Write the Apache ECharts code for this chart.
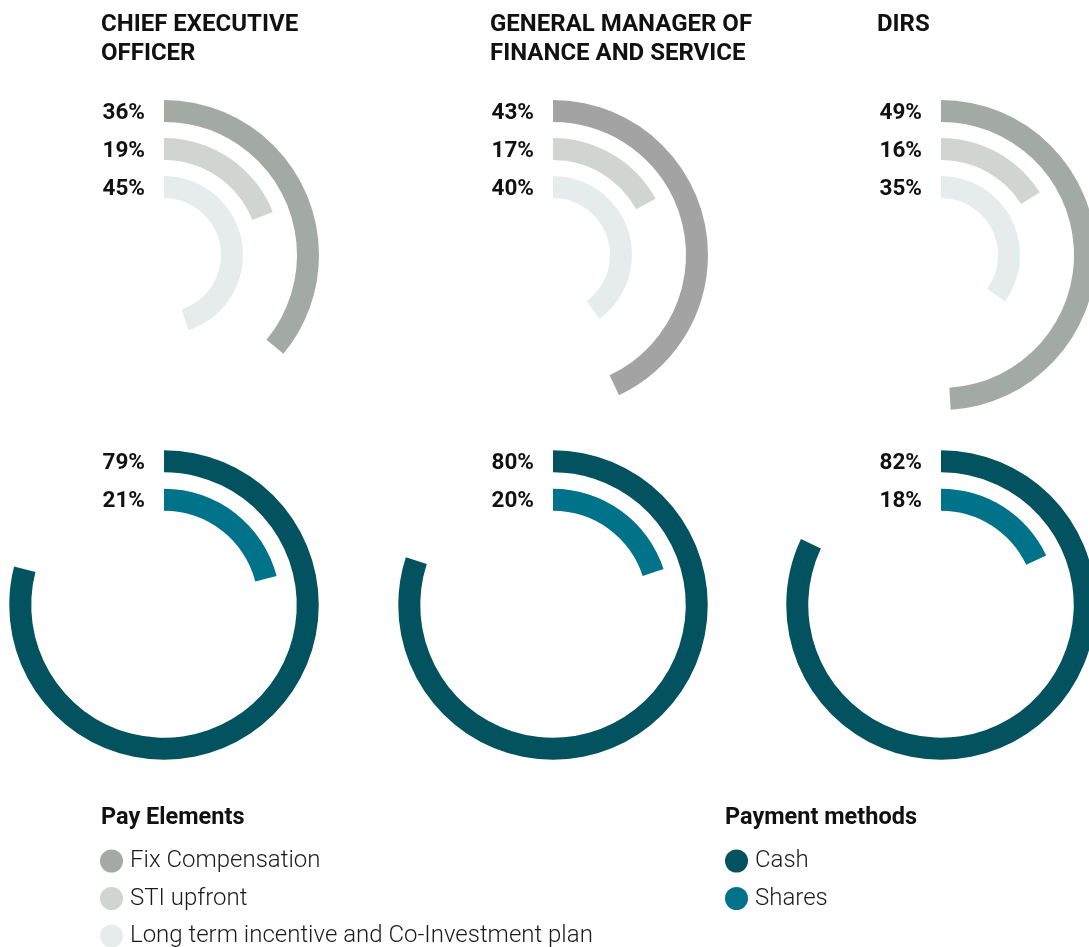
<!DOCTYPE html>
<html>
<head>
<meta charset="utf-8">
<script src="https://cdn.jsdelivr.net/npm/echarts@6/dist/echarts.min.js"></script>
<style>
  html, body { margin: 0; padding: 0; background: #fff; }
  #main { width: 1089px; height: 947px; }
</style>
</head>
<body>
<div id="main"></div>
<script>
// roles (one column each)
const roles = ['CHIEF EXECUTIVE\nOFFICER', 'GENERAL MANAGER OF\nFINANCE AND SERVICE', 'DIRS']
// pay elements, % of total pay
const payElements = ['Fix Compensation', 'STI upfront', 'Long term incentive and Co-Investment plan']
const fixCompensation = [36, 43, 49]
const stiUpfront = [19, 17, 16]
const ltiPlan = [45, 40, 35]
// payment methods, % of total pay
const paymentMethods = ['Cash', 'Shares']
const cash = [79, 80, 82]
const shares = [21, 20, 18]

const colX = [164, 553, 941]
const colLeft = [101, 490, 877]
const topY = 255
const bottomY = 605
const fixColors = ['#a3a9a5', '#a3a3a3', '#a3a9a5']
const stiColor = '#d1d5d2'
const ltiColor = '#e6ecec'
const cashColor = '#02525f'
const sharesColor = '#00738a'
const font = 'Roboto'

const chart = echarts.init(document.getElementById('main'))

const polar = []
const angleAxis = []
const radiusAxis = []
const series = []

function label() {
    return {
        show: true,
        position: 'start',
        distance: 19,
        offset: [0, 2],
        formatter: '{c}%',
        fontFamily: font,
        fontSize: 22.5,
        fontWeight: 'bold',
        color: '#111'
    }
}

// every ring of one polar shares a stack, so all rings sit centred in their band
function ring(name, polarIndex, data, color) {
    return {
        name: name,
        type: 'bar',
        coordinateSystem: 'polar',
        polarIndex: polarIndex,
        stack: 'p' + polarIndex,
        barWidth: 22,
        silent: true,
        itemStyle: { color: color },
        label: label(),
        data: data
    }
}

roles.forEach(function (role, i) {
    // top: pay elements (inner -> outer: LTI, STI, Fix)
    polar.push({ center: [colX[i], topY], radius: [49, 163] })
    angleAxis.push({ polarIndex: i * 2, type: 'value', min: 0, max: 100, startAngle: 90, clockwise: true, show: false })
    radiusAxis.push({ polarIndex: i * 2, type: 'category', data: ['lti', 'sti', 'fix'], show: false })
    series.push(ring(payElements[0], i * 2, ['-', '-', fixCompensation[i]], fixColors[i]))
    series.push(ring(payElements[1], i * 2, ['-', stiUpfront[i], '-'], stiColor))
    series.push(ring(payElements[2], i * 2, [ltiPlan[i], '-', '-'], ltiColor))

    // bottom: payment methods (inner -> outer: Shares, Cash)
    polar.push({ center: [colX[i], bottomY], radius: [86, 163] })
    angleAxis.push({ polarIndex: i * 2 + 1, type: 'value', min: 0, max: 100, startAngle: 90, clockwise: true, show: false })
    radiusAxis.push({ polarIndex: i * 2 + 1, type: 'category', data: ['shares', 'cash'], show: false })
    series.push(ring(paymentMethods[0], i * 2 + 1, ['-', cash[i]], cashColor))
    series.push(ring(paymentMethods[1], i * 2 + 1, [shares[i], '-'], sharesColor))
})

const titles = roles.map(function (role, i) {
    return {
        text: role,
        left: colLeft[i],
        top: 11,
        padding: 0,
        textStyle: { fontFamily: font, fontSize: 24, fontWeight: 'bold', lineHeight: 28.5, color: '#111' }
    }
})
titles.push({
    text: 'Pay Elements', left: 101, top: 806, padding: 0,
    textStyle: { fontFamily: font, fontSize: 23.5, fontWeight: 'bold', color: '#111' }
})
titles.push({
    text: 'Payment methods', left: 725, top: 806, padding: 0,
    textStyle: { fontFamily: font, fontSize: 23.5, fontWeight: 'bold', color: '#111' }
})

const legendText = { fontFamily: font, fontSize: 24, fontWeight: 300, color: '#1a1a1a', padding: [0, 0, 0, 2] }

chart.setOption({
    animation: false,
    title: titles,
    polar: polar,
    angleAxis: angleAxis,
    radiusAxis: radiusAxis,
    legend: [
        {
            data: payElements,
            orient: 'vertical',
            left: 100,
            top: 849,
            width: 560,
            height: 130,
            padding: 0,
            icon: 'circle',
            itemWidth: 23,
            itemHeight: 23,
            itemGap: 13.5,
            selectedMode: false,
            textStyle: legendText
        },
        {
            data: paymentMethods,
            orient: 'vertical',
            left: 725,
            top: 849,
            width: 300,
            height: 130,
            padding: 0,
            icon: 'circle',
            itemWidth: 23,
            itemHeight: 23,
            itemGap: 13.5,
            selectedMode: false,
            textStyle: legendText
        }
    ],
    series: series
})
</script>
</body>
</html>
